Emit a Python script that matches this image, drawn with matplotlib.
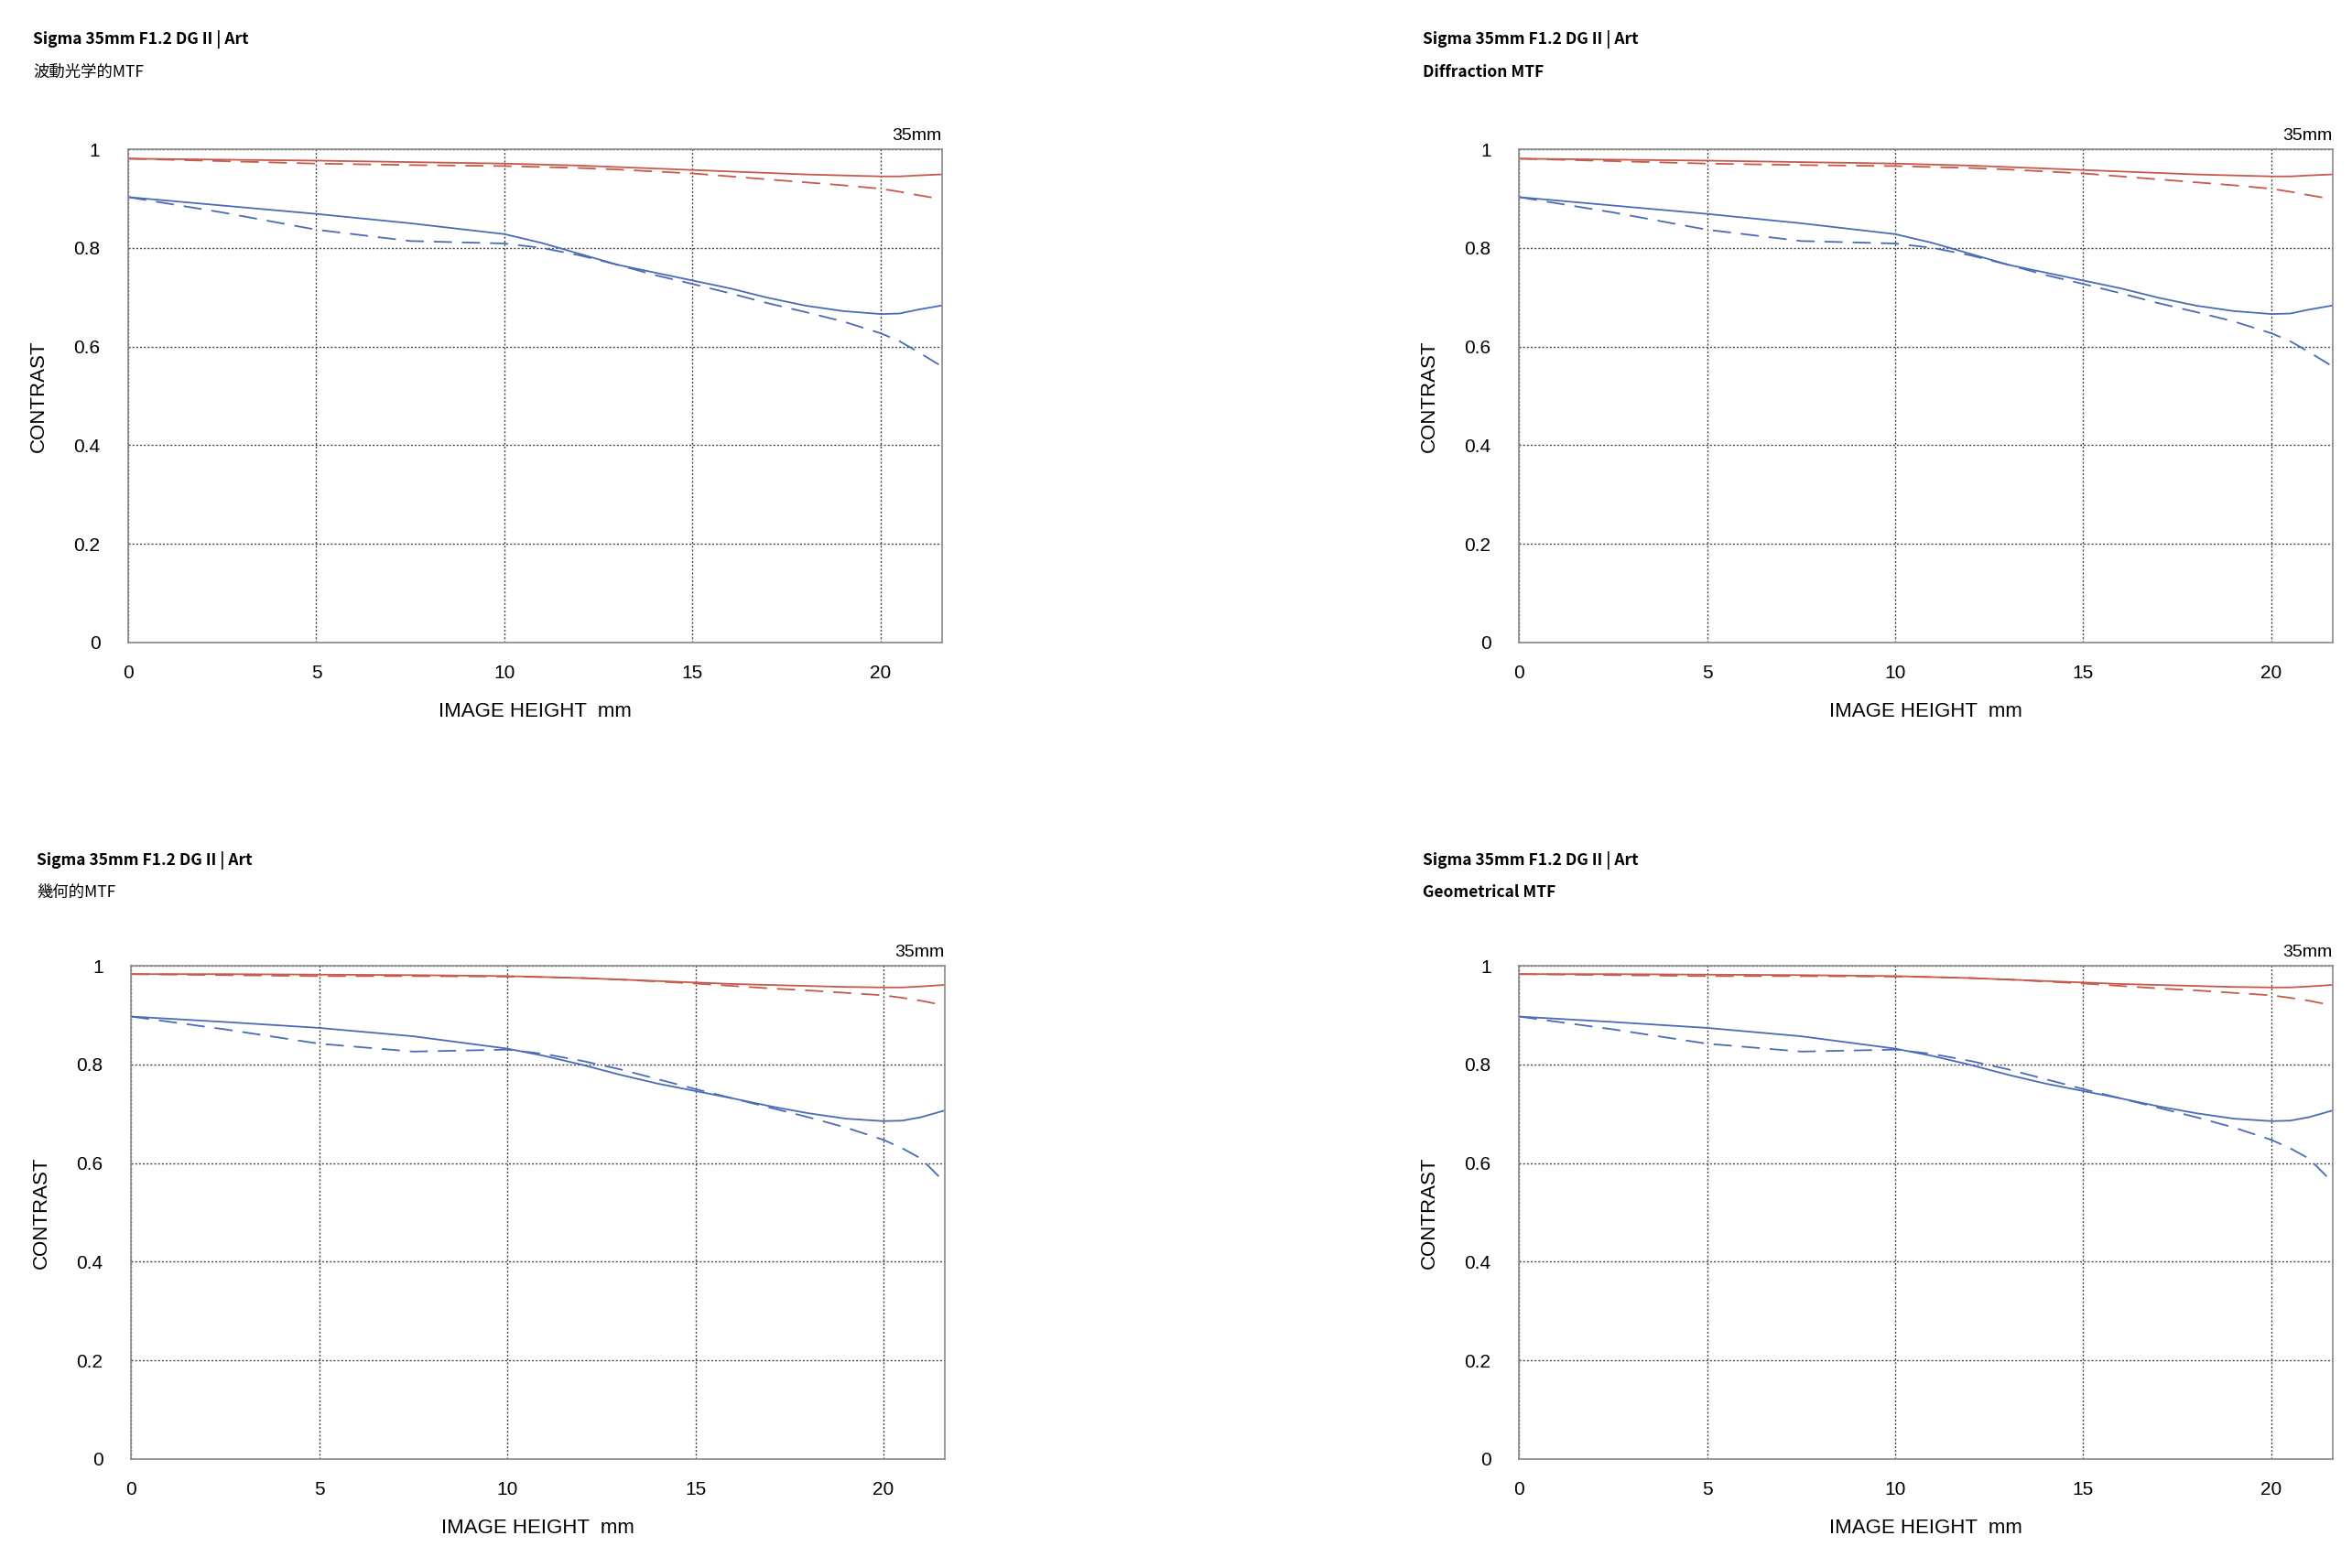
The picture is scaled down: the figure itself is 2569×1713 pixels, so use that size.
import matplotlib
matplotlib.use("Agg")
import matplotlib.pyplot as plt

plt.rcParams['font.family'] = ['Liberation Sans Narrow', 'Liberation Sans', 'DejaVu Sans']

image_height = [0, 2.5, 5, 7.5, 10, 11, 12, 13, 14, 15, 16, 17, 18, 19, 20, 20.5, 21, 21.6]

# diffraction MTF (top row)
diff_red_s = [0.981, 0.979, 0.977, 0.974, 0.971, 0.969, 0.967, 0.964, 0.961, 0.958, 0.955, 0.952, 0.949, 0.947, 0.945, 0.945, 0.947, 0.949]
diff_red_m = [0.981, 0.976, 0.971, 0.968, 0.966, 0.964, 0.962, 0.959, 0.955, 0.951, 0.945, 0.939, 0.933, 0.927, 0.920, 0.914, 0.907, 0.899]
diff_blue_s = [0.903, 0.886, 0.869, 0.850, 0.828, 0.810, 0.788, 0.766, 0.750, 0.734, 0.718, 0.699, 0.683, 0.672, 0.666, 0.667, 0.675, 0.683]
diff_blue_m = [0.903, 0.872, 0.837, 0.814, 0.809, 0.800, 0.785, 0.766, 0.745, 0.727, 0.708, 0.688, 0.670, 0.651, 0.627, 0.611, 0.589, 0.561]

# geometrical MTF (bottom row)
geo_red_s = [0.983, 0.983, 0.982, 0.981, 0.979, 0.977, 0.975, 0.972, 0.969, 0.966, 0.963, 0.961, 0.959, 0.957, 0.956, 0.956, 0.958, 0.961]
geo_red_m = [0.983, 0.981, 0.979, 0.979, 0.978, 0.977, 0.975, 0.972, 0.968, 0.964, 0.959, 0.954, 0.950, 0.945, 0.940, 0.935, 0.929, 0.920]
geo_blue_s = [0.897, 0.886, 0.874, 0.857, 0.832, 0.817, 0.799, 0.779, 0.761, 0.746, 0.731, 0.715, 0.701, 0.690, 0.685, 0.686, 0.693, 0.706]
geo_blue_m = [0.897, 0.871, 0.842, 0.826, 0.830, 0.821, 0.807, 0.790, 0.770, 0.750, 0.731, 0.712, 0.693, 0.672, 0.647, 0.630, 0.609, 0.563]

title = "Sigma 35mm F1.2 DG II | Art"
subtitles = ["波動光学的MTF", "Diffraction MTF", "幾何的MTF", "Geometrical MTF"]
x_ticks = [0, 5, 10, 15, 20]
y_ticks = [0, 0.2, 0.4, 0.6, 0.8, 1]
y_tick_labels = ["0", "0.2", "0.4", "0.6", "0.8", "1"]

RED = "#c65a4c"
BLUE = "#4a6bb6"
DASH = (0, (11, 6))
jp = ['Noto Sans CJK JP', 'DejaVu Sans']


def draw_panel(ax, red_s, red_m, blue_s, blue_m):
    ax.plot(image_height, red_s, color=RED, lw=1.3)
    ax.plot(image_height, red_m, color=RED, lw=1.3, linestyle=DASH)
    ax.plot(image_height, blue_s, color=BLUE, lw=1.3)
    ax.plot(image_height, blue_m, color=BLUE, lw=1.3, linestyle=DASH)
    ax.set_xlim(0, 21.63)
    ax.set_ylim(0, 1)
    ax.set_xticks(x_ticks)
    ax.set_yticks(y_ticks)
    ax.set_yticklabels(y_tick_labels)
    ax.tick_params(length=0, labelsize=15)
    ax.tick_params(axis='y', pad=22)
    ax.tick_params(axis='x', pad=17)
    ax.grid(True, linestyle=(0, (1.5, 1.5)), color="#444444", lw=1.0)
    for s in ax.spines.values():
        s.set_color("#8a8a8a")
        s.set_linewidth(1.2)
    ax.set_xlabel("IMAGE HEIGHT  mm", fontsize=16, labelpad=16)
    ax.set_ylabel("CONTRAST", fontsize=16, labelpad=20)
    ax.text(1, 1.012, "35mm", transform=ax.transAxes, ha='right', va='bottom', fontsize=14)


fig = plt.figure(figsize=(25.69, 17.13), dpi=100)

positions = [
    [0.0545, 0.5902, 0.346, 0.3146],
    [0.6458, 0.5902, 0.346, 0.3146],
    [0.0557, 0.0695, 0.346, 0.3146],
    [0.6458, 0.0695, 0.346, 0.3146],
]
data_sets = [
    (diff_red_s, diff_red_m, diff_blue_s, diff_blue_m),
    (diff_red_s, diff_red_m, diff_blue_s, diff_blue_m),
    (geo_red_s, geo_red_m, geo_blue_s, geo_blue_m),
    (geo_red_s, geo_red_m, geo_blue_s, geo_blue_m),
]
title_pos = [(0.014, 0.975, 0.954), (0.605, 0.975, 0.954),
             (0.0155, 0.451, 0.431), (0.605, 0.451, 0.431)]

for i in range(4):
    ax = fig.add_axes(positions[i])
    draw_panel(ax, *data_sets[i])
    tx, ty, sy = title_pos[i]
    fig.text(tx, ty, title, fontsize=12.5, fontweight='bold', family=jp, va='center')
    fig.text(tx, sy, subtitles[i], fontsize=12.5, family=jp, va='center',
             fontweight='bold' if i % 2 == 1 else 'normal')

fig.savefig("out.png", dpi=100)
